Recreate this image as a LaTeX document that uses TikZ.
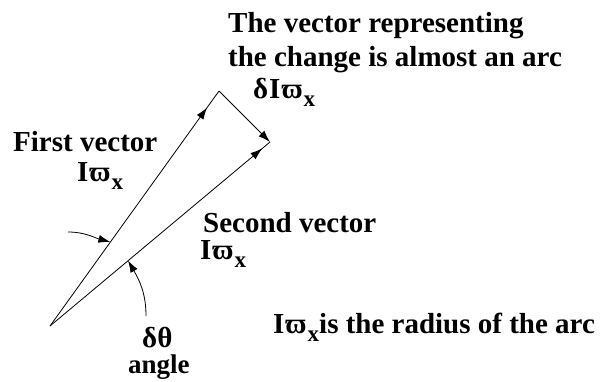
\documentclass[tikz,border=0pt]{standalone}
\usepackage{fontspec}
\setmainfont{Liberation Serif}
\usetikzlibrary{arrows.meta,decorations.markings}
\begin{document}
\begin{tikzpicture}[x=1pt,y=-1pt,
  lbl/.style={inner sep=0pt,anchor=base west,font=\fontsize{29}{34}\selectfont\bfseries},
  vec/.style={line width=0.8pt},
  tip/.style={-{Latex[length=12pt,width=8pt]}},
  midtip/.style={postaction={decorate},decoration={markings,mark=at position #1 with {\arrow{Latex[length=12pt,width=8pt]}}}}
]
\useasboundingbox (0,0) rectangle (609,381);
\newcommand{\Iw}{I\kern1pt\symbol{"03D6}\kern1pt\raisebox{-8pt}{\fontsize{23}{23}\selectfont x}}
% points
\coordinate (O) at (50,326);
\coordinate (A) at (219,91);
\coordinate (B) at (270,142);
% vectors
\draw[vec,midtip=0.93] (O) -- (A);
\draw[vec,midtip=0.965] (O) -- (B);
\draw[vec,tip] (A) -- (B);
% angle markers
\coordinate (u0) at (68,232);
\coordinate (u1) at (110.4,242);
\coordinate (l0) at (146,316);
\coordinate (l1) at (128,260.5);
\draw[vec,tip] (u0) to[out=0,in=165] (u1);
\draw[vec,tip] (l0) to[out=90,in=-60] (l1);
% labels
\node[lbl,align=left] (title) at (228,66) {The vector representing\\the change is almost an arc};
\node[lbl] (dI) at (253,98) {δ\kern1pt\Iw};
\node[lbl] (first) at (13,151) {First vector};
\node[lbl] (firstI) at (77,181) {\Iw};
\node[lbl] (second) at (203,232) {Second vector};
\node[lbl] (secondI) at (200,259) {\Iw};
\node[lbl] (dth) at (142,347) {δθ};
\node[lbl,font=\fontsize{27}{30}\selectfont\bfseries] (ang) at (128,373) {angle};
\node[lbl] (rad) at (273,333) {\Iw is the radius of the arc};
\end{tikzpicture}
\end{document}
